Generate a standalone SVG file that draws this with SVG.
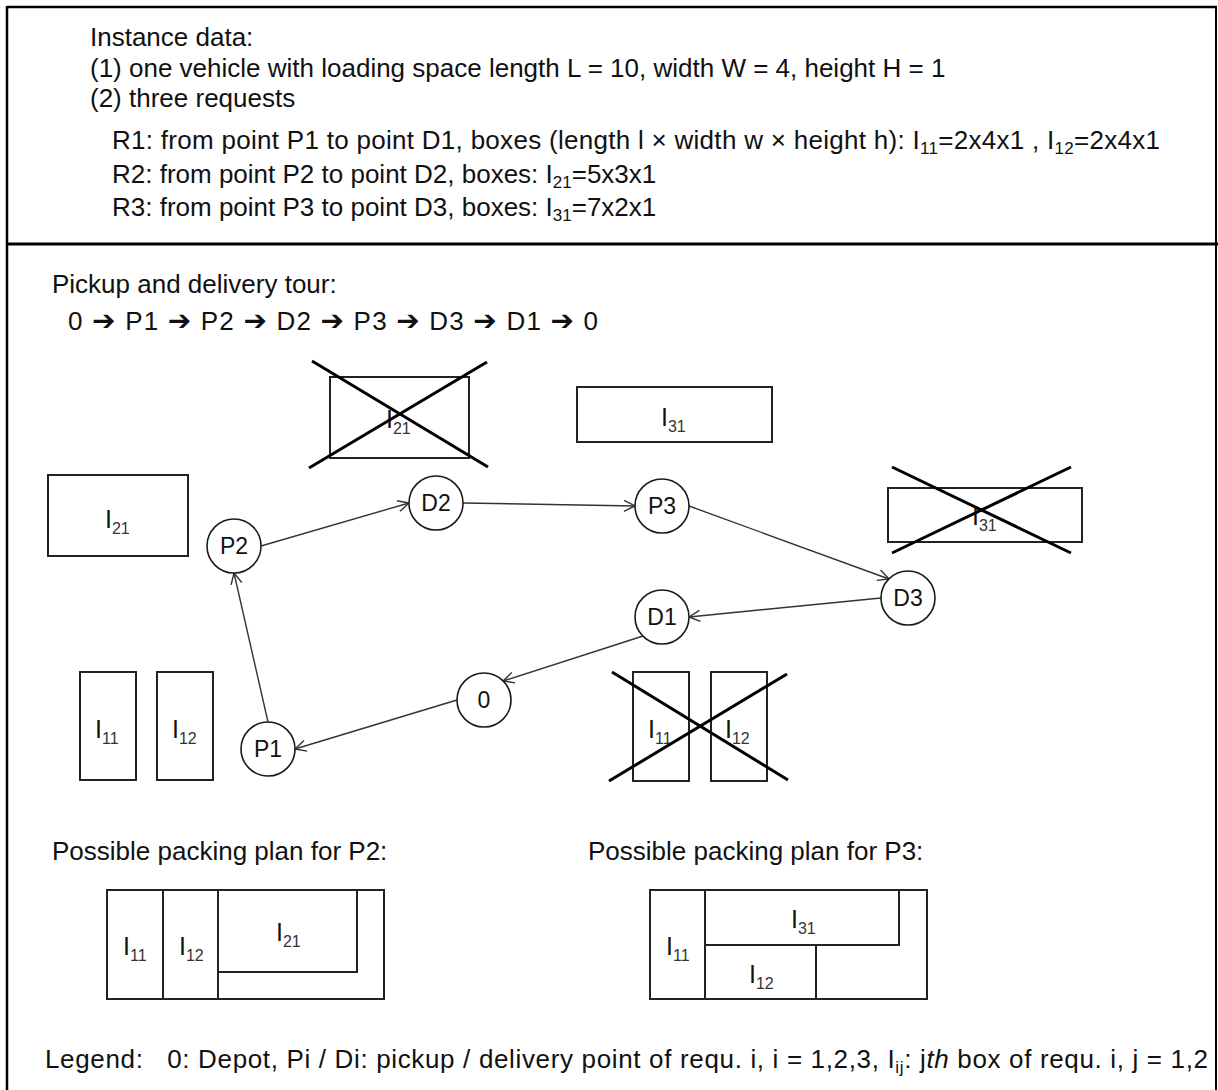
<svg xmlns="http://www.w3.org/2000/svg" width="1218" height="1090" viewBox="0 0 1218 1090">
<defs>
<style>
text{font-family:"Liberation Sans",Arial,sans-serif;fill:#111;}
.t{font-size:26px;}
.sub{font-size:17px;}
.ar{font-family:"DejaVu Sans",sans-serif;font-size:28px;font-weight:bold;}
.nl{font-size:23px;text-anchor:middle;}
.bl{font-size:25px;}
.bs{font-size:16px;fill:#333;}
.box{fill:none;stroke:#222;stroke-width:2;}
.x{stroke:#000;stroke-width:3;fill:none;}
.node circle{fill:#fff;stroke:#1a1a1a;stroke-width:1.6;}
.conn line{stroke:#333;stroke-width:1.4;marker-end:url(#arr);}
</style>
<marker id="arr" markerUnits="userSpaceOnUse" markerWidth="14" markerHeight="14" refX="12" refY="6" orient="auto" overflow="visible">
<path d="M1,0.5 L12,6 L1,11.5" fill="none" stroke="#333" stroke-width="1.4"/>
</marker>
</defs>
<rect width="1218" height="1090" fill="#fff"/>
<!-- frame -->
<g id="frame" fill="none" stroke="#000">
<line x1="7" y1="7" x2="1217" y2="7" stroke-width="2.5"/>
<line x1="7" y1="6" x2="7" y2="1090" stroke-width="2.5"/>
<line x1="1216" y1="6" x2="1216" y2="1090" stroke-width="2"/>
<line x1="6" y1="244" x2="1218" y2="244" stroke-width="3"/>
</g>
<!-- instance data -->
<g id="instance">
<text class="t" x="90" y="46">Instance data:</text>
<text class="t" x="90" y="77">(1) one vehicle with loading space length L = 10, width W = 4, height H = 1</text>
<text class="t" x="90" y="107">(2) three requests</text>
<text class="t" x="112" y="149" textLength="1048">R1: from point P1 to point D1, boxes (length l × width w × height h): I<tspan class="sub" dy="5">11</tspan><tspan dy="-5">=2x4x1 , I</tspan><tspan class="sub" dy="5">12</tspan><tspan dy="-5">=2x4x1</tspan></text>
<text class="t" x="112" y="183">R2: from point P2 to point D2, boxes: I<tspan class="sub" dy="5">21</tspan><tspan dy="-5">=5x3x1</tspan></text>
<text class="t" x="112" y="216">R3: from point P3 to point D3, boxes: I<tspan class="sub" dy="5">31</tspan><tspan dy="-5">=7x2x1</tspan></text>
</g>
<g id="tour-title">
<text class="t" x="52" y="293">Pickup and delivery tour:</text>
<text class="t" x="68" y="330" textLength="530">0 <tspan class="ar">➔</tspan> P1 <tspan class="ar">➔</tspan> P2 <tspan class="ar">➔</tspan> D2 <tspan class="ar">➔</tspan> P3 <tspan class="ar">➔</tspan> D3 <tspan class="ar">➔</tspan> D1 <tspan class="ar">➔</tspan> 0</text>
</g>
<!-- boxes -->
<g id="box-I21">
<rect class="box" x="48" y="475" width="140" height="81"/>
<text class="bl" x="105" y="528">I<tspan class="bs" dy="6">21</tspan></text>
</g>
<g id="box-I21-crossed">
<rect class="box" x="330" y="377" width="139" height="81"/>
<text class="bl" x="386" y="428">I<tspan class="bs" dy="6">21</tspan></text>
<line class="x" x1="312" y1="361" x2="488" y2="467"/>
<line class="x" x1="309" y1="468" x2="487" y2="362"/>
</g>
<g id="box-I31">
<rect class="box" x="577" y="387" width="195" height="55"/>
<text class="bl" x="661" y="426">I<tspan class="bs" dy="6">31</tspan></text>
</g>
<g id="box-I31-crossed">
<rect class="box" x="888" y="488" width="194" height="54"/>
<text class="bl" x="972" y="525">I<tspan class="bs" dy="6">31</tspan></text>
<line class="x" x1="892" y1="467" x2="1071" y2="553"/>
<line class="x" x1="892" y1="553" x2="1071" y2="467"/>
</g>
<g id="box-I11">
<rect class="box" x="80" y="672" width="56" height="108"/>
<text class="bl" x="95" y="738">I<tspan class="bs" dy="6">11</tspan></text>
</g>
<g id="box-I12">
<rect class="box" x="157" y="672" width="56" height="108"/>
<text class="bl" x="172" y="738">I<tspan class="bs" dy="6">12</tspan></text>
</g>
<g id="box-I11-I12-crossed">
<rect class="box" x="633" y="672" width="56" height="109"/>
<rect class="box" x="711" y="672" width="56" height="109"/>
<text class="bl" x="648" y="738">I<tspan class="bs" dy="6">11</tspan></text>
<text class="bl" x="725" y="738">I<tspan class="bs" dy="6">12</tspan></text>
<line class="x" x1="612" y1="672" x2="788" y2="780"/>
<line class="x" x1="609" y1="781" x2="787" y2="674"/>
</g>
<!-- connectors -->
<g id="connectors" class="conn">
<line x1="268" y1="722" x2="234" y2="573"/>
<line x1="261" y1="546" x2="409" y2="503"/>
<line x1="463" y1="503" x2="635" y2="506"/>
<line x1="689" y1="506" x2="889" y2="579"/>
<line x1="881" y1="598" x2="689" y2="617"/>
<line x1="643" y1="636" x2="503" y2="681"/>
<line x1="457" y1="700" x2="295" y2="749"/>
</g>
<!-- nodes -->
<g id="node-P2" class="node"><circle cx="234" cy="546" r="27"/><text class="nl" x="234" y="554">P2</text></g>
<g id="node-D2" class="node"><circle cx="436" cy="503" r="27"/><text class="nl" x="436" y="511">D2</text></g>
<g id="node-P3" class="node"><circle cx="662" cy="506" r="27"/><text class="nl" x="662" y="514">P3</text></g>
<g id="node-D3" class="node"><circle cx="908" cy="598" r="27"/><text class="nl" x="908" y="606">D3</text></g>
<g id="node-D1" class="node"><circle cx="662" cy="617" r="27"/><text class="nl" x="662" y="625">D1</text></g>
<g id="node-0" class="node"><circle cx="484" cy="700" r="27"/><text class="nl" x="484" y="708">0</text></g>
<g id="node-P1" class="node"><circle cx="268" cy="749" r="27"/><text class="nl" x="268" y="757">P1</text></g>
<!-- packing plans -->
<g id="plan-P2">
<text class="t" x="52" y="860">Possible packing plan for P2:</text>
<rect class="box" x="107" y="890" width="277" height="109"/>
<line class="box" x1="163" y1="890" x2="163" y2="999"/>
<line class="box" x1="218" y1="890" x2="218" y2="999"/>
<polyline class="box" points="218,972 357,972 357,890"/>
<text class="bl" x="123" y="955">I<tspan class="bs" dy="6">11</tspan></text>
<text class="bl" x="179" y="955">I<tspan class="bs" dy="6">12</tspan></text>
<text class="bl" x="276" y="941">I<tspan class="bs" dy="6">21</tspan></text>
</g>
<g id="plan-P3">
<text class="t" x="588" y="860">Possible packing plan for P3:</text>
<rect class="box" x="650" y="890" width="277" height="109"/>
<line class="box" x1="705" y1="890" x2="705" y2="999"/>
<polyline class="box" points="705,945 899,945 899,890"/>
<line class="box" x1="816" y1="945" x2="816" y2="999"/>
<text class="bl" x="666" y="955">I<tspan class="bs" dy="6">11</tspan></text>
<text class="bl" x="791" y="928">I<tspan class="bs" dy="6">31</tspan></text>
<text class="bl" x="749" y="983">I<tspan class="bs" dy="6">12</tspan></text>
</g>
<g id="legend">
<text class="t" x="45" y="1068" textLength="1163" style="white-space:pre">Legend:   0: Depot, Pi / Di: pickup / delivery point of requ. i, i = 1,2,3, I<tspan class="sub" font-size="14" dy="5">ij</tspan><tspan dy="-5">: j</tspan><tspan font-style="italic">th</tspan> box of requ. i, j = 1,2</text>
</g>
</svg>
